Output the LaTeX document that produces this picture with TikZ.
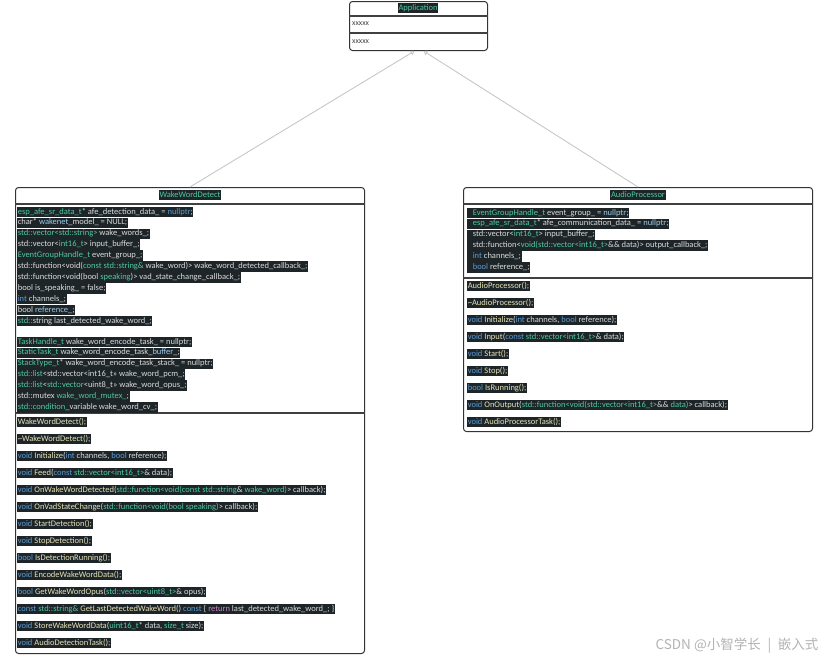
\documentclass[tikz,border=0pt]{standalone}
\usepackage{fontspec}
\setmainfont{Carlito}
\newfontfamily\cjkfont{Noto Sans CJK SC}
\usepackage{xcolor}
\usetikzlibrary{arrows.meta}

\definecolor{hlbg}{HTML}{1E2528}
\definecolor{codefg}{HTML}{DADADA}
\definecolor{kwblue}{HTML}{5A9BD5}
\definecolor{tyteal}{HTML}{4EC9A0}
\definecolor{fnyel}{HTML}{E6E3B8}
\definecolor{vrblue}{HTML}{9CCCEE}
\definecolor{retpurp}{HTML}{C586C0}

\newcommand{\ckw}[1]{\textcolor{kwblue}{#1}}
\newcommand{\cty}[1]{\textcolor{tyteal}{#1}}
\newcommand{\cfn}[1]{\textcolor{fnyel}{#1}}
\newcommand{\cvr}[1]{\textcolor{vrblue}{#1}}
\newcommand{\cret}[1]{\textcolor{retpurp}{#1}}

\begin{document}
\begin{tikzpicture}[x=1pt, y=-1pt,
    classbox/.style={draw=black!80, line width=1pt, rounded corners=3pt, fill=white, anchor=north west, inner sep=0pt},
    divider/.style={draw=black!75, line width=1.3pt},
    code/.style={fill=hlbg, text=codefg, font=\fontsize{8.5}{9}\selectfont, anchor=west,
      inner xsep=0.6pt, inner ysep=1pt, text height=6.3pt, text depth=2.2pt},
    title/.style={code, anchor=center, text=tyteal},
    plain/.style={font=\fontsize{7.8}{9}\selectfont, anchor=west, text=black!75, inner sep=0pt},
    inherit/.style={draw=black!22, line width=0.9pt, -{Triangle[open, length=4pt, width=5pt]}}]

  \path[use as bounding box] (0,0) rectangle (828,662);

  % class boxes
  \node[classbox, minimum width=138pt, minimum height=49pt] (app) at (349,1) {};
  \node[classbox, minimum width=349pt, minimum height=466pt] (wwd) at (15,187) {};
  \node[classbox, minimum width=349pt, minimum height=244pt] (ap) at (463,187) {};

  \draw[divider] ([yshift=-15pt]app.north west) -- ([yshift=-15pt]app.north east);
  \draw[divider] ([yshift=-32pt]app.north west) -- ([yshift=-32pt]app.north east);
  \draw[divider] ([yshift=-17pt]wwd.north west) -- ([yshift=-17pt]wwd.north east);
  \draw[divider] ([yshift=-226pt]wwd.north west) -- ([yshift=-226pt]wwd.north east);
  \draw[divider] ([yshift=-17pt]ap.north west) -- ([yshift=-17pt]ap.north east);
  \draw[divider] ([yshift=-91pt]ap.north west) -- ([yshift=-91pt]ap.north east);

  % titles
  \node[title] (apptitle) at (418,8) {Application};
  \node[title] (wwdtitle) at (190,195) {WakeWordDetect};
  \node[title] (aptitle) at (638,195) {AudioProcessor};

  \node[plain] (appx1) at (352,24) {xxxxx};
  \node[plain] (appx2) at (352,42) {xxxxx};

  % WakeWordDetect members
  \foreach \txt [count=\i] in {
      {\cty{esp\_afe\_sr\_data\_t}* afe\_detection\_data\_ = \ckw{nullptr};},
      {char* \cvr{wakenet}\_model\_ = NULL;},
      {\cty{std::vector<std::string>} wake\_words\_;},
      {std::vector<\cty{int16\_t}> input\_buffer\_;},
      {\cty{EventGroupHandle\_t} event\_group\_;},
      {std::function<void(\cty{const std::string\&} wake\_word)> wake\_word\_detected\_callback\_;},
      {std::function<void(bool \cty{speaking})> vad\_state\_change\_callback\_;},
      {bool is\_speaking\_ = false;},
      {\ckw{int} channels\_;},
      {bool \cvr{reference}\_;},
      {\cty{std::}string last\_detected\_wake\_word\_;}}
    \node[code] (wa\i) at (17,{212+(\i-1)*10.9}) {\txt};
  \foreach \txt [count=\i] in {
      {\cty{TaskHandle\_t} wake\_word\_encode\_task\_ = nullptr;},
      {\cty{StaticTask\_t} wake\_word\_encode\_task\_\cvr{buffer}\_;},
      {\cty{StackType\_t}* wake\_word\_encode\_task\_stack\_ = nullptr;},
      {\cty{std::list}<std::vector<int16\_t>> wake\_word\_pcm\_;},
      {\cty{std::list}<\cty{std::vector}<uint8\_t>> wake\_word\_opus\_;},
      {std::mutex \cty{wake\_word\_mutex\_};},
      {\cty{std::condition}\_variable wake\_word\_cv\_;}}
    \node[code] (wt\i) at (17,{342+(\i-1)*10.9}) {\txt};
  \foreach \txt [count=\i] in {
      {\cfn{WakeWordDetect();}},
      {\cfn{\textasciitilde WakeWordDetect();}},
      {\ckw{void} \cfn{Initialize}(\ckw{int} channels, \ckw{bool} reference);},
      {\ckw{void} \cfn{Feed}(\ckw{const} \cty{std::vector<int16\_t>}\& data);},
      {\ckw{void} \cfn{OnWakeWordDetected}(\cty{std::function<void(const std::string}\& \cty{wake\_word)}> callback);},
      {\ckw{void} \cfn{OnVadStateChange}(\cty{std::function<void(bool speaking)}> callback);},
      {\ckw{void} \cfn{StartDetection();}},
      {\ckw{void} \cfn{StopDetection();}},
      {\ckw{bool} \cfn{IsDetectionRunning();}},
      {\ckw{void} \cfn{EncodeWakeWordData();}},
      {\ckw{bool} \cfn{GetWakeWordOpus}(\cty{std::vector<uint8\_t>}\& opus);},
      {\ckw{const} \cty{std::string\&} \cfn{GetLastDetectedWakeWord}() \ckw{const} \{ \cret{return} last\_detected\_wake\_word\_; \}},
      {\ckw{void} \cfn{StoreWakeWordData}(\cty{uint16\_t}* data, \cty{size\_t} size);},
      {\ckw{void} \cfn{AudioDetectionTask();}}}
    \node[code] (wm\i) at (17,{422+(\i-1)*17}) {\txt};

  % AudioProcessor members
  \foreach \txt [count=\i] in {
      {\hspace{5pt}\cty{EventGroupHandle\_t} event\_group\_ = \cvr{nullptr};},
      {\hspace{5pt}\cty{esp\_afe\_sr\_data\_t}* afe\_communication\_data\_ = \cvr{nullptr};},
      {\hspace{5pt}std::vector<\cty{int16\_t}> input\_buffer\_;},
      {\hspace{5pt}std::function<\cty{void(std::vector<int16\_t>}\&\& data)> output\_callback\_;},
      {\hspace{5pt}\ckw{int} channels\_;},
      {\hspace{5pt}\ckw{bool} reference\_;}}
    \node[code] (aa\i) at (467,{213+(\i-1)*10.9}) {\txt};
  \foreach \txt [count=\i] in {
      {\cfn{AudioProcessor();}},
      {\cfn{\textasciitilde AudioProcessor();}},
      {\ckw{void} \cfn{Initialize}(\ckw{int} channels, \ckw{bool} reference);},
      {\ckw{void} \cfn{Input}(\ckw{const} \cty{std::vector<int16\_t>}\& data);},
      {\ckw{void} \cfn{Start();}},
      {\ckw{void} \cfn{Stop();}},
      {\ckw{bool} \cfn{IsRunning();}},
      {\ckw{void} \cfn{OnOutput}(\cty{std::function<void(std::vector<int16\_t>}\&\& \cty{data)}> callback);},
      {\ckw{void} \cfn{AudioProcessorTask();}}}
    \node[code] (am\i) at (467,{286+(\i-1)*17}) {\txt};

  % inheritance
  \draw[inherit] (wwd.north) -- ([xshift=-4pt]app.south);
  \draw[inherit] (ap.north) -- ([xshift=5pt]app.south);

  \node[font=\cjkfont\fontsize{13.5}{15}\selectfont, text=black!30, anchor=east] (mark)
    at (822,646) {CSDN @小智学长 \;|\; 嵌入式};
\end{tikzpicture}
\end{document}
